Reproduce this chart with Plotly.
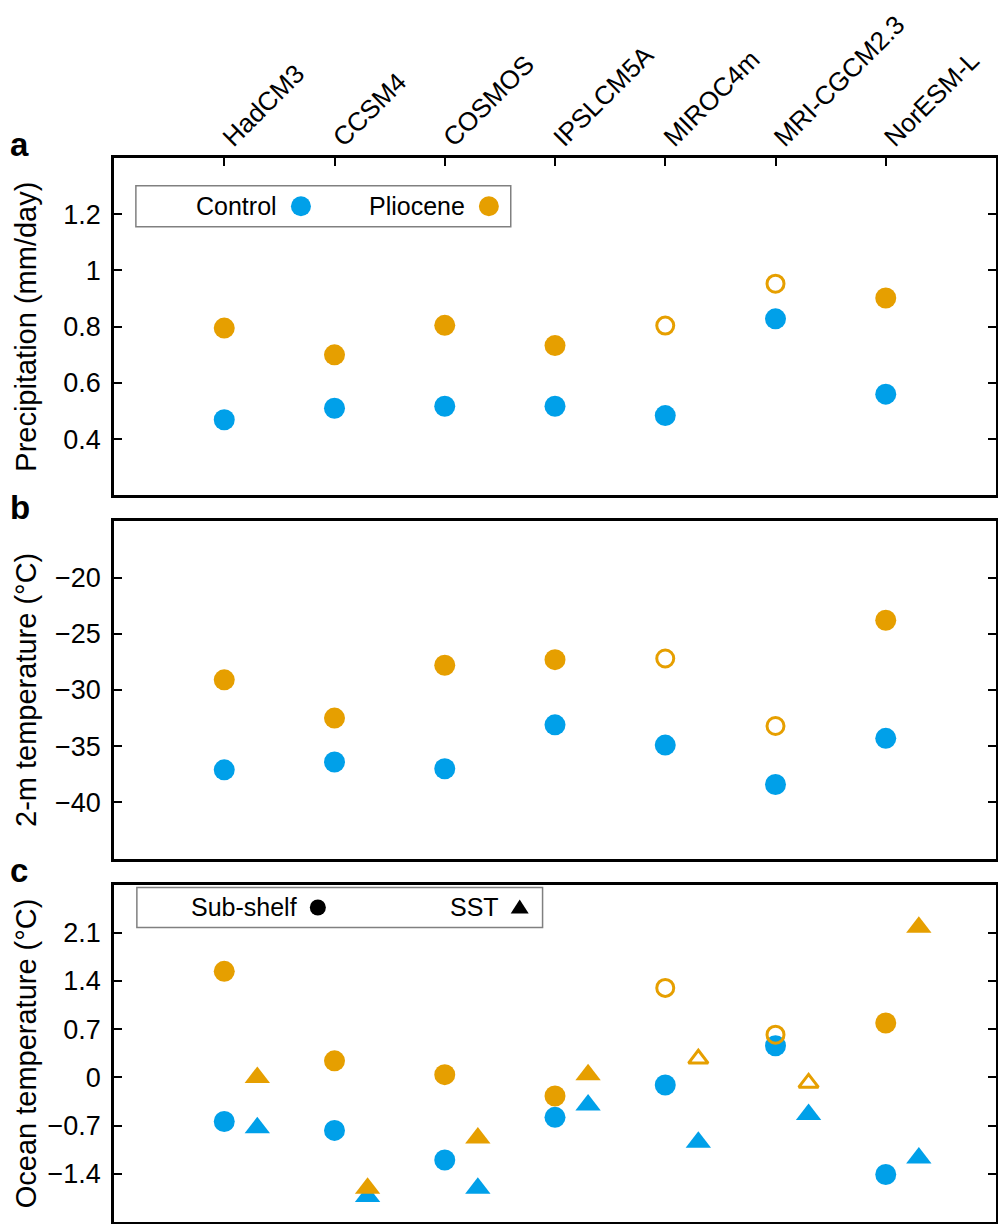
import plotly.graph_objects as go

# model names along the top
models = ["HadCM3", "CCSM4", "COSMOS", "IPSLCM5A", "MIROC4m", "MRI-CGCM2.3", "NorESM-L"]
# open markers (MIROC4m, MRI-CGCM2.3 Pliocene)
pliocene_open = [False, False, False, False, True, True, False]

# (a) precipitation, mm/day
precip_control = [0.469, 0.510, 0.517, 0.517, 0.484, 0.828, 0.560]
precip_pliocene = [0.795, 0.700, 0.805, 0.733, 0.804, 0.953, 0.902]

# (b) 2-m temperature, degC
tas_control = [-37.1, -36.4, -37.0, -33.1, -34.9, -38.4, -34.3]
tas_pliocene = [-29.1, -32.5, -27.8, -27.3, -27.2, -33.2, -23.8]

# (c) ocean temperature, degC
subshelf_control = [-0.64, -0.77, -1.20, -0.58, -0.11, 0.46, -1.41]
subshelf_pliocene = [1.54, 0.24, 0.04, -0.27, 1.30, 0.62, 0.79]
sst_control = [-0.73, -1.73, -1.61, -0.40, -0.94, -0.54, -1.17]
sst_pliocene = [0.00, -1.61, -0.88, 0.04, 0.27, -0.08, 2.18]

BLUE = "#00A0E9"
ORANGE = "#E69F00"
FONT = "Liberation Sans, Arial, sans-serif"

# page has an 8px body margin; keep the figure inside the window
W, H = 990, 1216
ML, MR, MT, MB = 106, 2, 150, 2

# reference frame bounds (page px) used to place things in paper coords
RX0, RX1 = 114, 1001
RY0, RY1 = 160, 1229

def px(ref):
    return (ref - RX0) / (RX1 - RX0)

def py(ref):
    return 1 - (ref - RY0) / (RY1 - RY0)

idx = list(range(len(models)))
tri_x = [i + 0.3 for i in idx]

fig = go.Figure()

def add_pts(x, y, color, base, axis, open_flags=None):
    if open_flags is None:
        open_flags = [False] * len(y)
    sym = [base + "-open" if o else base for o in open_flags]
    if base == "circle":
        size = [17 if o else 21 for o in open_flags]
    else:
        size = [17 if o else 22 for o in open_flags]
    lw = [3 if o else 0 for o in open_flags]
    fig.add_trace(go.Scatter(
        x=x, y=y, mode="markers",
        marker=dict(symbol=sym, size=size, color=color, opacity=1,
                    line=dict(width=lw, color=color)),
        xaxis=axis[0], yaxis=axis[1], showlegend=False, hoverinfo="skip"))

add_pts(idx, precip_control, BLUE, "circle", ("x", "y"))
add_pts(idx, precip_pliocene, ORANGE, "circle", ("x", "y"), pliocene_open)
add_pts(idx, tas_control, BLUE, "circle", ("x2", "y2"))
add_pts(idx, tas_pliocene, ORANGE, "circle", ("x2", "y2"), pliocene_open)
add_pts(idx, subshelf_control, BLUE, "circle", ("x3", "y3"))
add_pts(tri_x, sst_control, BLUE, "triangle-up", ("x3", "y3"))
add_pts(idx, subshelf_pliocene, ORANGE, "circle", ("x3", "y3"), pliocene_open)
add_pts(tri_x, sst_pliocene, ORANGE, "triangle-up", ("x3", "y3"), pliocene_open)

# panel frames (reference rows): a 160-499, b 525-864, c 890-1229
dom_a = [py(499), 1.0]
dom_b = [py(864), py(525)]
dom_c = [0.0, py(890)]

xcommon = dict(range=[-1, 7], showline=True, mirror=True, linecolor="black",
               linewidth=2.5, showgrid=False, zeroline=False, automargin=False)
ycommon = dict(showline=True, mirror="ticks", linecolor="black", linewidth=2.5,
               showgrid=False, zeroline=False, ticks="inside", ticklen=8,
               tickwidth=2, tickcolor="black", ticklabelstandoff=5,
               automargin=False,
               tickfont=dict(family=FONT, size=27, color="black"))

fig.update_layout(
    width=W, height=H,
    margin=dict(l=ML, r=MR, t=MT, b=MB),
    plot_bgcolor="white", paper_bgcolor="white",
    font=dict(family=FONT, color="black"),
    xaxis=dict(**xcommon, anchor="y", domain=[0, 1], side="top",
               tickvals=idx, ticktext=models, tickangle=-45,
               ticks="inside", ticklen=8, tickwidth=2, tickcolor="black",
               ticklabelstandoff=-7,
               tickfont=dict(family=FONT, size=26, color="black")),
    yaxis=dict(**ycommon, domain=dom_a, anchor="x", range=[0.2, 1.4],
               tickvals=[0.4, 0.6, 0.8, 1.0, 1.2],
               ticktext=["0.4", "0.6", "0.8", "1", "1.2"]),
    xaxis2=dict(**xcommon, anchor="y2", matches="x", showticklabels=False, ticks=""),
    yaxis2=dict(**ycommon, domain=dom_b, anchor="x2", range=[-45, -15],
                tickvals=[-40, -35, -30, -25, -20]),
    xaxis3=dict(**xcommon, anchor="y3", matches="x", showticklabels=False, ticks=""),
    yaxis3=dict(**ycommon, domain=dom_c, anchor="x3", range=[-2.1, 2.8],
                tickvals=[-1.4, -0.7, 0, 0.7, 1.4, 2.1],
                ticktext=["\u22121.4", "\u22120.7", "0", "0.7", "1.4", "2.1"]),
)

# panel letters and y titles
titles = ["Precipitation (mm/day)", "2-m temperature (\u00b0C)", "Ocean temperature (\u00b0C)"]
doms = [dom_a, dom_b, dom_c]
for letter, title, dom in zip("abc", titles, doms):
    fig.add_annotation(text="<b>" + letter + "</b>", xref="paper", yref="paper",
                       x=0, y=dom[1], xshift=-ML, yshift=14, xanchor="left",
                       yanchor="middle", showarrow=False,
                       font=dict(family=FONT, size=33, color="black"))
    fig.add_annotation(text=title, xref="paper", yref="paper",
                       x=0, y=(dom[0] + dom[1]) / 2, xshift=-88, textangle=-90,
                       xanchor="center", yanchor="middle", showarrow=False,
                       font=dict(family=FONT, size=29, color="black"))

# legend boxes drawn by hand (label then marker, as in the original)
LEG_FONT = dict(family=FONT, size=25, color="black")
fig.add_shape(type="rect", xref="paper", yref="paper",
              x0=px(136), x1=px(513), y0=py(229), y1=py(188),
              line=dict(color="#808080", width=1.5), fillcolor="white", layer="below")
for label, xr, xm, col in [("Control", 280, 302, BLUE), ("Pliocene", 469, 491, ORANGE)]:
    fig.add_annotation(text=label, xref="paper", yref="paper", x=px(xr), y=py(208.5),
                       xanchor="right", yanchor="middle", showarrow=False, font=LEG_FONT)
    fig.add_shape(type="circle", xref="paper", yref="paper",
                  xsizemode="pixel", ysizemode="pixel",
                  xanchor=px(xm), yanchor=py(208.5), x0=-10, x1=10, y0=-10, y1=10,
                  fillcolor=col, line=dict(width=0))

fig.add_shape(type="rect", xref="paper", yref="paper",
              x0=px(137), x1=px(545), y0=py(933), y1=py(893),
              line=dict(color="#808080", width=1.5), fillcolor="white", layer="below")
fig.add_annotation(text="Sub-shelf", xref="paper", yref="paper", x=px(300), y=py(913),
                   xanchor="right", yanchor="middle", showarrow=False, font=LEG_FONT)
fig.add_shape(type="circle", xref="paper", yref="paper",
              xsizemode="pixel", ysizemode="pixel",
              xanchor=px(319), yanchor=py(913), x0=-8, x1=8, y0=-8, y1=8,
              fillcolor="black", line=dict(width=0))
fig.add_annotation(text="SST", xref="paper", yref="paper", x=px(503), y=py(913),
                   xanchor="right", yanchor="middle", showarrow=False, font=LEG_FONT)
fig.add_shape(type="path", xref="paper", yref="paper",
              xsizemode="pixel", ysizemode="pixel",
              xanchor=px(522), yanchor=py(913),
              path="M -9 -6 L 9 -6 L 0 8 Z",
              fillcolor="black", line=dict(width=0))

fig.write_html("out.html")
